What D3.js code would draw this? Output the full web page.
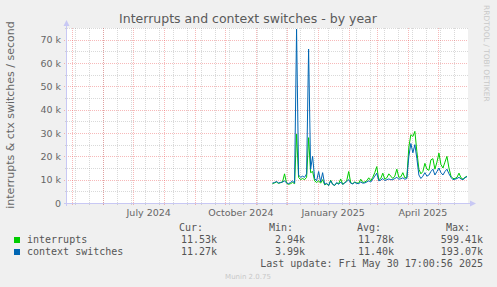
<!DOCTYPE html>
<html>
<head>
<meta charset="utf-8">
<script src="https://cdn.jsdelivr.net/npm/d3@7/dist/d3.min.js"></script>
<style>
  html, body { margin: 0; padding: 0; background: #f0f0f0; }
  svg { display: block; }
</style>
</head>
<body>
<div id="chart"></div>
<script>
// values, one point every 2 days from 2024-11-17 (in thousands per second)
var firstDay = "2024-11-17";
var stepDays = 2;

var interruptsK = [
  8.3, 8.6, 9.0, 8.4, 8.7, 9.0, 12.5, 8.5, 8.0, 8.3, 8.8, 8.3,
  29.5, 11.0, 10.0, 10.5, 10.0, 11.0, 28.0, 13.0, 13.5, 9.5, 8.8, 9.5,
  8.5, 10.0, 7.8, 8.2, 7.5, 9.8, 8.0, 7.5, 8.5, 8.3, 10.3, 8.0,
  8.7, 9.5, 13.5, 8.6, 8.3, 9.0, 8.6, 8.5, 10.2, 8.8, 9.0, 9.5,
  10.8, 9.5, 11.0, 13.0, 15.6, 10.0, 10.5, 12.8, 10.2, 10.8, 12.5, 11.5,
  10.5, 11.5, 14.5, 11.0, 11.2, 13.0, 10.8, 11.0, 24.0, 29.3, 28.5, 30.7,
  22.0, 14.5, 12.5, 13.5, 17.0, 14.5, 14.0, 18.5, 19.0, 14.5, 17.5, 21.4,
  16.5, 15.0, 17.5, 20.0, 15.0, 11.5, 10.5, 10.5, 11.0, 12.8, 10.8, 10.2,
  11.0, 11.5
];

var ctxSwitchesK = [
  8.5, 8.8, 9.2, 8.6, 8.8, 9.0, 9.5, 8.6, 8.3, 8.8, 9.5, 8.5,
  74.5, 12.0, 11.0, 11.5, 11.0, 12.5, 66.0, 14.5, 20.0, 10.5, 9.5, 13.5,
  9.0, 13.0, 8.0, 8.5, 7.5, 9.5, 8.0, 7.6, 8.8, 8.0, 9.0, 8.0,
  8.6, 9.2, 10.0, 8.5, 8.2, 8.8, 8.4, 8.3, 9.0, 8.5, 8.6, 9.0,
  9.5, 9.0, 10.2, 11.5, 12.8, 9.5, 9.8, 10.5, 9.6, 10.0, 10.3, 10.0,
  10.0, 10.5, 11.0, 10.2, 10.4, 10.8, 10.2, 10.5, 20.0, 25.5, 21.5, 25.0,
  19.0, 12.0, 10.5, 11.5, 13.0, 11.5, 12.0, 13.5, 14.5, 12.0, 13.5, 15.0,
  13.0, 12.0, 13.5, 14.5, 12.5, 11.0, 10.0, 10.2, 10.5, 11.0, 10.3, 10.0,
  10.8, 11.3
];

var seriesNames = ["interrupts", "context switches"];
var seriesColors = ["#00cc00", "#0066b3"];
var statHeaders = ["Cur:", "Min:", "Avg:", "Max:"];
var statInterrupts = ["11.53k", "2.94k", "11.78k", "599.41k"];
var statCtx = ["11.27k", "3.99k", "11.40k", "193.07k"];

var yTicks = [0, 10000, 20000, 30000, 40000, 50000, 60000, 70000];
var xLabels = ["2024-07-01", "2024-10-01", "2025-01-01", "2025-04-01"];

var W = 497, H = 287;
var plot = { left: 67, right: 468, top: 28, bottom: 203 };

var parse = d3.timeParse("%Y-%m-%d");
var start = parse(firstDay);
var dates = interruptsK.map(function(v, i) { return d3.timeDay.offset(start, i * stepDays); });

var svg = d3.select("#chart").append("svg")
  .attr("width", W).attr("height", H)
  .style("font-family", "'DejaVu Sans', sans-serif");

svg.append("rect").attr("width", W).attr("height", H).attr("fill", "#f0f0f0");
svg.append("rect")
  .attr("x", plot.left).attr("y", plot.top)
  .attr("width", plot.right - plot.left).attr("height", plot.bottom - plot.top)
  .attr("fill", "#ffffff");

var x = d3.scaleTime()
  .domain([parse("2024-04-26"), parse("2025-05-30")])
  .range([plot.left, plot.left + 400]);
var y = d3.scaleLinear().domain([0, 75000]).range([plot.bottom, plot.top]);

var minorCol = "rgba(128,128,128,0.3)";
var majorCol = "rgba(235,70,70,0.38)";

// minor grid
var minorY = d3.range(5000, 75001, 10000);
svg.append("g").selectAll("line").data(minorY).enter().append("line")
  .attr("x1", plot.left - 2).attr("x2", plot.right)
  .attr("y1", function(d) { return Math.round(y(d)) + 0.5; })
  .attr("y2", function(d) { return Math.round(y(d)) + 0.5; })
  .attr("stroke", minorCol).attr("stroke-dasharray", "1,1");

var minorX = d3.timeDay.range(parse("2024-05-04"), parse("2025-05-28"), 14);
svg.append("g").selectAll("line").data(minorX).enter().append("line")
  .attr("x1", function(d) { return Math.round(x(d)) + 0.5; })
  .attr("x2", function(d) { return Math.round(x(d)) + 0.5; })
  .attr("y1", plot.top).attr("y2", plot.bottom + 2)
  .attr("stroke", minorCol).attr("stroke-dasharray", "1,1");

// major grid
var months = d3.timeMonth.range(parse("2024-05-01"), parse("2025-05-30"));
svg.append("g").selectAll("line").data(yTicks.slice(1)).enter().append("line")
  .attr("x1", plot.left - 3).attr("x2", plot.right)
  .attr("y1", function(d) { return Math.round(y(d)) + 0.5; })
  .attr("y2", function(d) { return Math.round(y(d)) + 0.5; })
  .attr("stroke", majorCol).attr("stroke-dasharray", "1,1");
svg.append("g").selectAll("line").data(months).enter().append("line")
  .attr("x1", function(d) { return Math.round(x(d)) + 0.5; })
  .attr("x2", function(d) { return Math.round(x(d)) + 0.5; })
  .attr("y1", plot.top).attr("y2", plot.bottom + 3)
  .attr("stroke", majorCol).attr("stroke-dasharray", "1,1");

// axes lines + arrows
var axisCol = "#c8c8f4";
svg.append("line").attr("x1", plot.left - 0.5).attr("x2", plot.left - 0.5)
  .attr("y1", plot.bottom + 3).attr("y2", plot.top - 4)
  .attr("stroke", axisCol);
svg.append("line").attr("x1", plot.left - 3).attr("x2", plot.right + 3)
  .attr("y1", plot.bottom + 0.5).attr("y2", plot.bottom + 0.5)
  .attr("stroke", axisCol);
svg.append("path")
  .attr("d", "M" + (plot.left - 3.5) + "," + (plot.top - 2) + " L" + (plot.left - 0.5) + "," + (plot.top - 8) +
             " L" + (plot.left + 2.5) + "," + (plot.top - 2) + "Z")
  .attr("fill", axisCol);
svg.append("path")
  .attr("d", "M" + (plot.right + 2) + "," + (plot.bottom - 2.5) + " L" + (plot.right + 8) + "," + (plot.bottom + 0.5) +
             " L" + (plot.right + 2) + "," + (plot.bottom + 3.5) + "Z")
  .attr("fill", axisCol);

// tick labels
svg.append("g").selectAll("text").data(yTicks).enter().append("text")
  .attr("x", plot.left - 6).attr("y", function(d) { return y(d) + 3.5; })
  .attr("text-anchor", "end").attr("font-size", "9.5px").attr("fill", "#666")
  .text(function(d) { return d === 0 ? "0" : (d / 1000) + " k"; });

var labFmt = d3.timeFormat("%B %Y");
svg.append("g").selectAll("text").data(xLabels).enter().append("text")
  .attr("x", function(d) {
    var a = parse(d);
    return (x(a) + x(d3.timeMonth.offset(a, 1))) / 2;
  })
  .attr("y", 216).attr("text-anchor", "middle")
  .attr("font-size", "9.5px").attr("fill", "#666")
  .text(function(d) { return labFmt(parse(d)); });

// lines
var line = d3.line()
  .x(function(d, i) { return x(dates[i]); })
  .y(function(d) { return y(d * 1000); });
[interruptsK, ctxSwitchesK].forEach(function(s, k) {
  svg.append("path").datum(s)
    .attr("d", line).attr("fill", "none")
    .attr("stroke", seriesColors[k]).attr("stroke-width", 1);
});

// titles
svg.append("text").attr("x", 248).attr("y", 23).attr("text-anchor", "middle")
  .attr("font-size", "12.5px").attr("fill", "#5a5a5a")
  .text("Interrupts and context switches - by year");
svg.append("text").attr("transform", "translate(14,115) rotate(-90)")
  .attr("text-anchor", "middle").attr("font-size", "11px").attr("fill", "#666")
  .text("interrupts & ctx switches / second");
svg.append("text").attr("transform", "translate(484,5) rotate(90)")
  .attr("font-size", "7.5px").attr("fill", "#c8c8c8")
  .text("RRDTOOL / TOBI OETIKER");

// legend
var mono = "'DejaVu Sans Mono', monospace";
var headerX = [203, 293, 381, 470];
var valueX = [217, 305, 394, 483];
svg.append("g").selectAll("text").data(statHeaders).enter().append("text")
  .attr("x", function(d, i) { return headerX[i]; }).attr("y", 231)
  .attr("text-anchor", "end").attr("font-family", mono).attr("font-size", "10px").attr("fill", "#555")
  .text(function(d) { return d; });

[statInterrupts, statCtx].forEach(function(stats, k) {
  var rowY = 243 + k * 12;
  svg.append("rect").attr("x", 14).attr("y", rowY - 6).attr("width", 6).attr("height", 6)
    .attr("fill", seriesColors[k]);
  svg.append("text").attr("x", 27).attr("y", rowY)
    .attr("font-family", mono).attr("font-size", "10px").attr("fill", "#555")
    .text(seriesNames[k]);
  svg.append("g").selectAll("text").data(stats).enter().append("text")
    .attr("x", function(d, i) { return valueX[i]; }).attr("y", rowY)
    .attr("text-anchor", "end").attr("font-family", mono).attr("font-size", "10px").attr("fill", "#555")
    .text(function(d) { return d; });
});

svg.append("text").attr("x", 483).attr("y", 267).attr("text-anchor", "end")
  .attr("font-family", mono).attr("font-size", "10px").attr("fill", "#555")
  .text("Last update: Fri May 30 17:00:56 2025");
svg.append("text").attr("x", 248).attr("y", 279).attr("text-anchor", "middle")
  .attr("font-size", "7px").attr("fill", "#c8c8c8")
  .text("Munin 2.0.75");
</script>
</body>
</html>
